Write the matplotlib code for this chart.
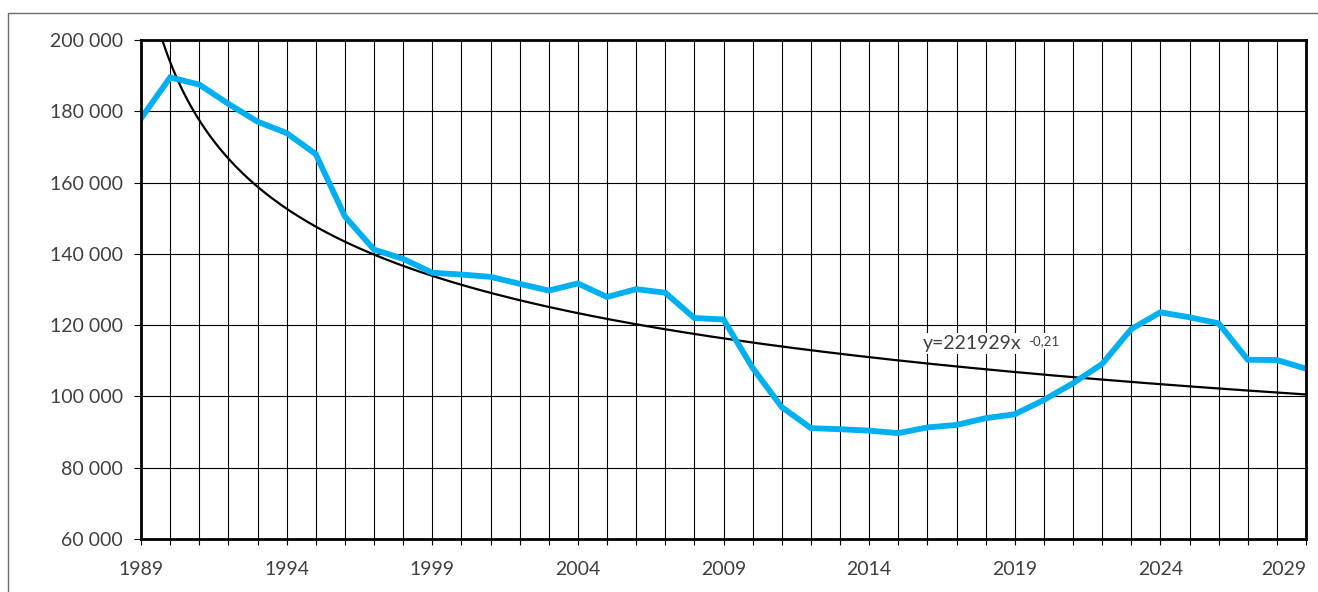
import numpy as np
import matplotlib
matplotlib.use("Agg")
import matplotlib.pyplot as plt
from matplotlib.patches import Rectangle

years = list(range(1989, 2030))
values = [178000, 189500, 187500, 182100, 177100, 173900, 168000, 150500,
          141200, 138600, 134700, 134200, 133550, 131600, 129700, 131700,
          127900, 130100, 129100, 122000, 121600, 108000, 97000, 91100,
          90800, 90400, 89700, 91300, 92000, 93900, 95000, 99000,
          103700, 109100, 118900, 123600, 122200, 120500, 110300, 110200,
          107800]
label_years = [1989, 1994, 1999, 2004, 2009, 2014, 2019, 2024, 2029]
y_ticks = [60000, 80000, 100000, 120000, 140000, 160000, 180000, 200000]
trend_label = "y=221929x"
trend_power = "-0,21"

BLUE = "#00B0F0"
TEXT = "#404040"
plt.rcParams["font.family"] = ["Lato", "DejaVu Sans"]


def main():
    fig = plt.figure(figsize=(13.18, 5.92), dpi=100)
    ax = fig.add_axes([141 / 1318, 53 / 592, 1165 / 1318, 499 / 592])

    # outer chart border, runs off the right and bottom edges
    fig.patches.append(Rectangle((8.3 / 1318, -0.1), 1.2, 1.1 - 13.3 / 592,
                                 transform=fig.transFigure, fill=False,
                                 edgecolor="#6b6b6b", linewidth=1.0))

    # power trendline fitted like Excel does (log-log least squares)
    idx = np.arange(1, len(values) + 1)
    b, ln_a = np.polyfit(np.log(idx), np.log(values), 1)
    xs = np.linspace(1, len(values), 400)
    ax.plot(xs + years[0] - 1, np.exp(ln_a) * xs ** b, color="black",
            linewidth=1.6, zorder=3)

    ax.plot(years, values, color=BLUE, linewidth=4.2, zorder=4,
            solid_joinstyle="miter")

    ax.set_xlim(years[0], years[-1])
    ax.set_ylim(y_ticks[0], y_ticks[-1])
    ax.set_xticks(years)
    ax.set_xticklabels([str(y) if y in label_years else "" for y in years])
    ax.set_yticks(y_ticks)
    ax.set_yticklabels([f"{v:,}".replace(",", " ") for v in y_ticks])
    # last year label sits at the right edge, keep it inside the figure
    ax.get_xticklabels()[-1].set_horizontalalignment("right")

    ax.grid(True, color="black", linewidth=0.8, zorder=1)
    ax.set_axisbelow(True)
    for side in ax.spines.values():
        side.set_linewidth(2.0)
        side.set_zorder(5)
    ax.tick_params(axis="y", length=5, width=0.8, pad=8, labelsize=14,
                   labelcolor=TEXT)
    ax.tick_params(axis="x", length=4.5, width=0.8, pad=11, labelsize=14,
                   labelcolor=TEXT)

    box = dict(facecolor="white", edgecolor="none", pad=1.5)
    ax.text(2015.85, 114800, trend_label, fontsize=14, color=TEXT,
            ha="left", va="center", bbox=box, zorder=6)
    ax.text(2019.45, 115600, trend_power, fontsize=9.5, color=TEXT,
            ha="left", va="center", bbox=box, zorder=6)

    fig.savefig("out.png", dpi=100)


main()
